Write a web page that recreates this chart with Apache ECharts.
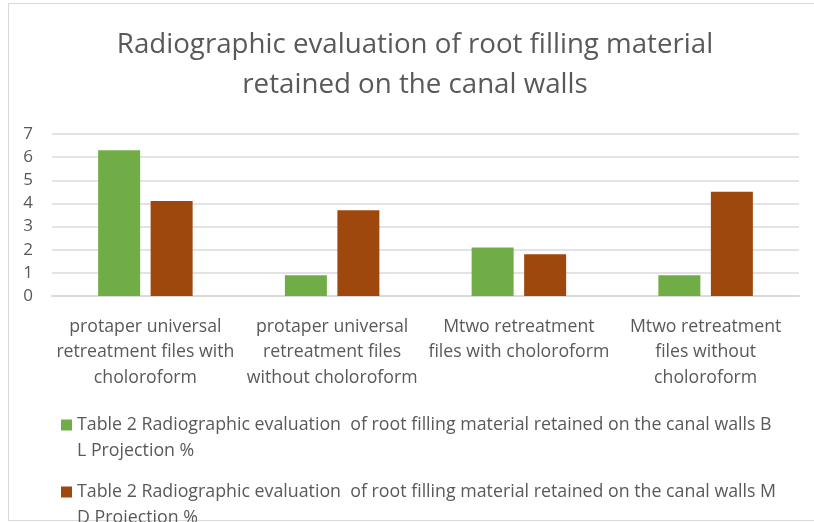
<!DOCTYPE html>
<html>
<head>
<meta charset="utf-8">
<script src="https://cdn.jsdelivr.net/npm/echarts@6/dist/echarts.min.js"></script>
<style>
  html, body { margin: 0; padding: 0; background: #fff; }
  #chart { width: 814px; height: 522px; }
</style>
</head>
<body>
<div id="chart"></div>
<script>
// categories (line breaks as wrapped in the original)
const categories = [
  'protaper universal\nretreatment files with\ncholoroform',
  'protaper universal\nretreatment files\nwithout choloroform',
  'Mtwo retreatment\nfiles with choloroform',
  'Mtwo retreatment\nfiles without\ncholoroform'
]
const seriesNames = [
  'Table 2 Radiographic evaluation  of root filling material retained on the canal walls B L Projection %',
  'Table 2 Radiographic evaluation  of root filling material retained on the canal walls M D Projection %'
]
const blValues = [6.3, 0.9, 2.1, 0.9]
const mdValues = [4.1, 3.7, 1.8, 4.5]
const yTicks = [0, 1, 2, 3, 4, 5, 6, 7]

const FONT = '"Open Sans"'
const TXT = '#595959'

const chart = echarts.init(document.getElementById('chart'))

const option = {
  animation: false,
  textStyle: { fontFamily: FONT },
  title: {
    text: 'Radiographic evaluation of root filling material\nretained on the canal walls',
    left: 415,
    top: 25,
    padding: 0,
    textAlign: 'center',
    textStyle: {
      fontFamily: FONT,
      fontSize: 27.7,
      fontWeight: 'normal',
      color: TXT,
      lineHeight: 40
    }
  },
  graphic: [
    {
      type: 'rect',
      shape: { x: 8.5, y: 3.5, width: 820, height: 517 },
      style: { fill: 'none', stroke: '#D9D9D9', lineWidth: 1 },
      silent: true
    }
  ],
  legend: {
    orient: 'vertical',
    left: 61,
    top: 386,
    height: 300,
    padding: 0,
    itemGap: -11,
    itemWidth: 11,
    itemHeight: 11,
    icon: 'rect',
    data: seriesNames,
    // empty first line keeps the swatch level with the text's first line;
    // the last "X Projection %" chunk wraps onto the next line
    formatter (name) {
      return '\n' + name.replace(/ (\S+ Projection %)$/, '\n$1')
    },
    textStyle: {
      fontFamily: FONT,
      fontSize: 17.8,
      color: TXT,
      lineHeight: 26
    }
  },
  grid: {
    left: 52,
    right: 15,
    top: 134,
    bottom: 226,
    containLabel: false
  },
  xAxis: {
    type: 'category',
    data: categories,
    axisLine: { show: true, lineStyle: { color: '#DADADA', width: 2 } },
    axisTick: { show: false },
    axisLabel: {
      interval: 0,
      margin: 18,
      color: TXT,
      fontFamily: FONT,
      fontSize: 17.7,
      lineHeight: 25.5,
      align: 'center'
    }
  },
  yAxis: {
    type: 'value',
    min: yTicks[0],
    max: yTicks[yTicks.length - 1],
    interval: 1,
    axisLine: { show: false },
    axisTick: { show: false },
    splitLine: { lineStyle: { color: '#E3E3E3', width: 2 } },
    axisLabel: {
      margin: 19,
      color: TXT,
      fontFamily: FONT,
      fontSize: 17
    }
  },
  series: [
    {
      name: seriesNames[0],
      type: 'bar',
      data: blValues,
      barWidth: 42,
      barGap: '25%',
      itemStyle: { color: '#70AD47' }
    },
    {
      name: seriesNames[1],
      type: 'bar',
      data: mdValues,
      barWidth: 42,
      barGap: '25%',
      itemStyle: { color: '#9E480E' }
    }
  ]
}

chart.setOption(option)
</script>
</body>
</html>
